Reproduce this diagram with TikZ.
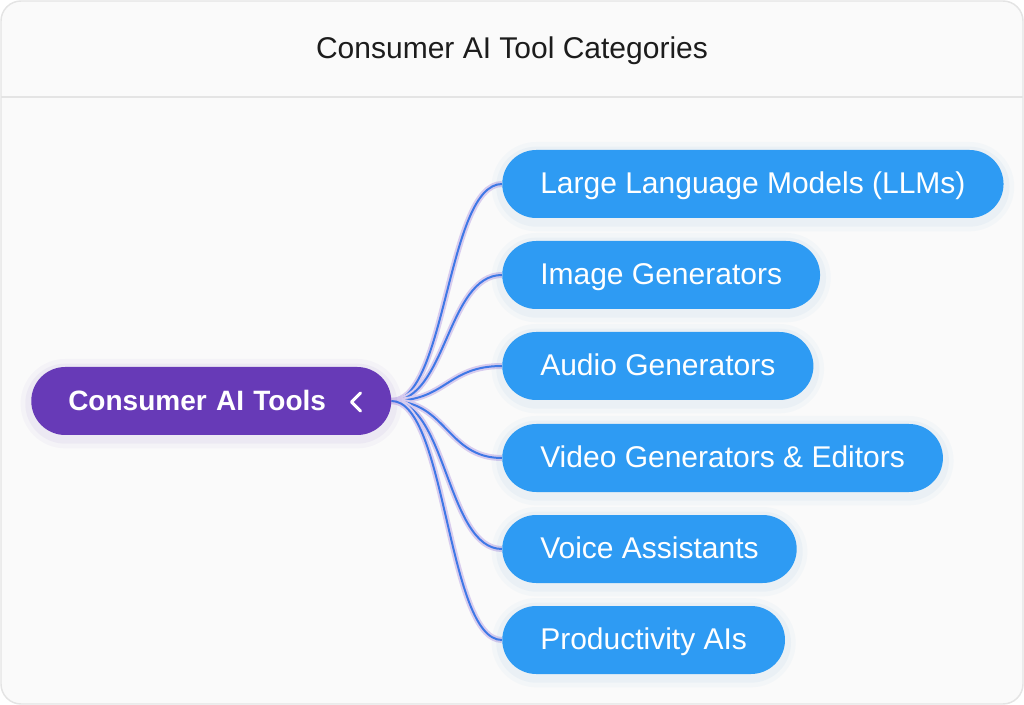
\documentclass[tikz,border=0pt]{standalone}
\usepackage{fontspec}
\setmainfont{Liberation Sans}
\usetikzlibrary{backgrounds}

\definecolor{framegray}{HTML}{E4E4E4}
\definecolor{panelbg}{HTML}{FAFAFA}
\definecolor{rootpurple}{HTML}{673AB7}
\definecolor{leafblue}{HTML}{2E9BF3}
\definecolor{linkblue}{HTML}{3F78E6}
\definecolor{linkglow}{HTML}{D8CCEE}
\definecolor{titleink}{HTML}{1C1C1C}

\tikzset{
  softglow/.style={
    preaction={draw=#1, draw opacity=0.035, line width=16pt, transform canvas={yshift=-2pt}},
    preaction={draw=#1, draw opacity=0.05, line width=9pt, transform canvas={yshift=-2pt}}},
  pill/.style={draw=none, text=white, rounded corners=25.5pt, minimum height=51pt,
    inner ysep=0pt, text height=16pt, text depth=1.5pt, anchor=west},
  leafbox/.style={pill, fill=leafblue, inner xsep=28.5pt, softglow=leafblue!70!gray},
  rootbox/.style={pill, fill=rootpurple, inner xsep=27.75pt, text width=214.5pt, align=left,
    font=\fontsize{21}{25}\selectfont\bfseries, softglow=rootpurple},
  link/.style={line width=1.5pt, linkblue},
  linkhalo/.style={line width=4.5pt, linkglow}
}

\begin{document}
\begin{tikzpicture}[x=0.75pt, y=-0.75pt, every node/.style={font=\fontsize{22.5}{27}\selectfont}]
  \useasboundingbox (0,0) rectangle (1024,705);

  % title
  \node[titleink, text height=16pt, text depth=0pt] (title) at (512,48) {Consumer AI Tool Categories};

  % root of the map
  \node[rootbox] (root) at (31,401) {Consumer AI Tools};
  % collapse chevron
  \draw[white, line width=2.25pt, line cap=round, line join=round]
    (root.east) ++(-31,-8) -- ++(-9,9) -- ++(9,9);

  % categories
  \node[leafbox] (llm)   at (502,184) {Large Language Models (LLMs)};
  \node[leafbox] (image) at (502,275) {Image Generators};
  \node[leafbox] (audio) at (502,366) {Audio Generators};
  \node[leafbox] (video) at (502,458) {Video Generators \& Editors};
  \node[leafbox] (voice) at (502,549) {Voice Assistants};
  \node[leafbox] (prod)  at (502,640) {Productivity AIs};

  \begin{scope}[on background layer]
    % panel and header rule
    \draw[framegray, line width=1.1pt, fill=panelbg, rounded corners=15pt] (1,1) rectangle (1023,704);
    \draw[framegray, line width=1.1pt] (1,97) -- (1023,97);

    % branches
    \foreach \leaf in {llm,image,audio,video,voice,prod} {
      \draw[linkhalo] (root.east) .. controls +(55,0) and +(-55,0) .. (\leaf.west);
      \draw[link] (root.east) .. controls +(55,0) and +(-55,0) .. (\leaf.west);
    }
  \end{scope}
\end{tikzpicture}
\end{document}
